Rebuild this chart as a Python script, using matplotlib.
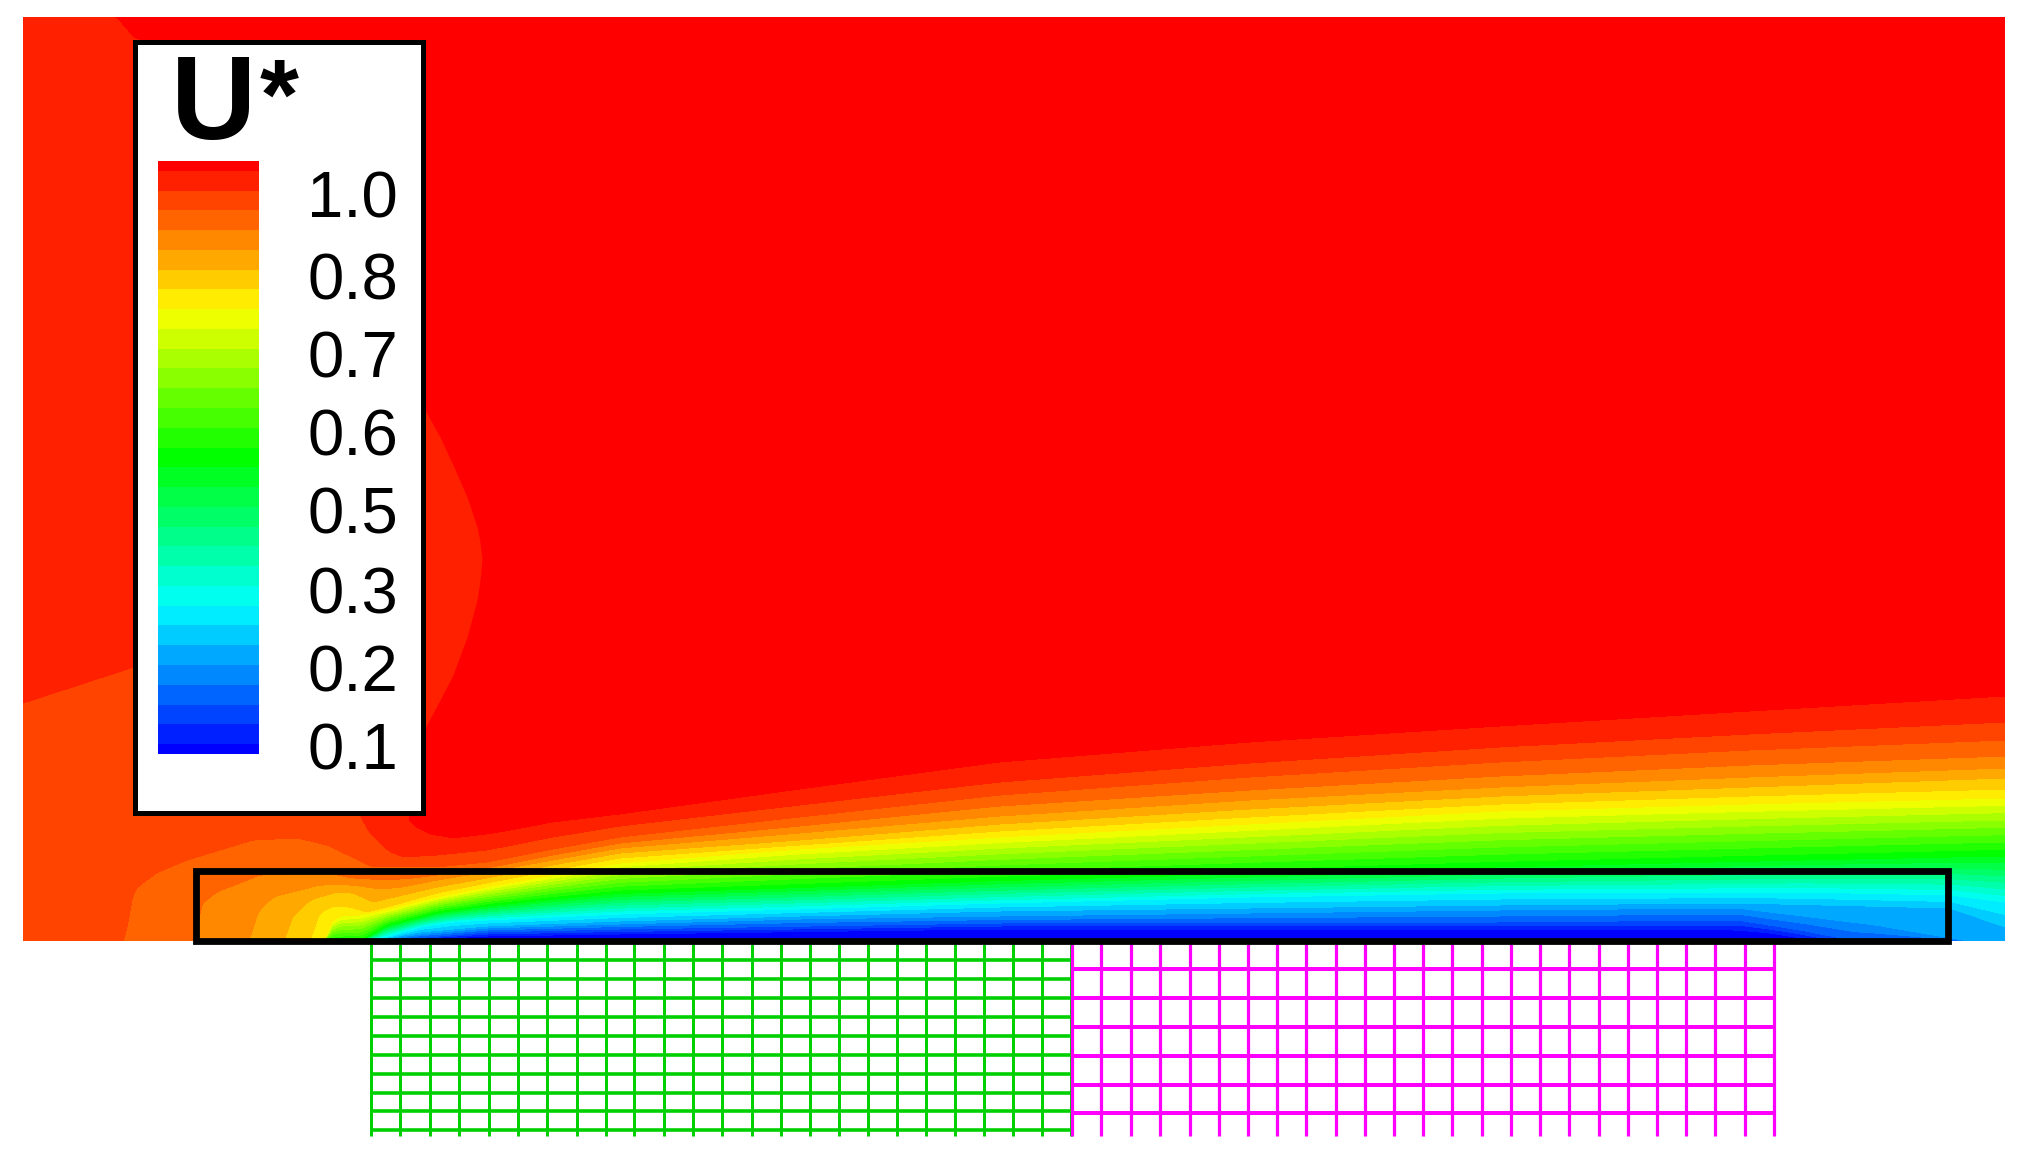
import numpy as np
import matplotlib
matplotlib.use("Agg")
import matplotlib.pyplot as plt
from matplotlib.colors import LinearSegmentedColormap
from matplotlib.patches import Rectangle

# colour bands, 0 = blue ... 30 = red
rainbow = ['#0000ff', '#00ffff', '#00ff00', '#ffff00', '#ff0000']
legend_labels = ['1.0', '0.8', '0.7', '0.6', '0.5', '0.3', '0.2', '0.1']

# contours: (x, y) in picture pixels, one list per band edge
c05 = [(385, 941), (487, 936), (620, 934), (1000, 929), (1500, 930), (1737, 930), (1770, 933), (1795, 937),
       (1815, 941)]
c25 = [(378, 941), (487, 932), (620, 929), (1000, 923), (1500, 922), (1737, 920), (1800, 930), (1836, 937),
       (1855, 941)]
c45 = [(374, 941), (420, 934), (487, 928), (620, 924), (800, 919), (1000, 916), (1250, 913), (1500, 910),
       (1737, 908), (1875, 925), (1945, 937), (1970, 941)]
c55 = [(372, 941), (420, 932), (487, 926), (620, 921), (800, 916), (1000, 911), (1250, 908), (1500, 905),
       (1737, 903), (1950, 908), (2005, 927)]
c75 = [(370, 941), (420, 927), (453, 922), (487, 920), (553, 917), (620, 914), (800, 909), (1000, 903),
       (1250, 897), (1500, 893), (1800, 892), (1950, 895), (2005, 902)]
c150 = [(360, 941), (387, 925), (437, 912), (487, 905), (553, 898), (620, 892), (800, 886), (1000, 879),
        (1250, 872), (1500, 865), (1750, 859), (2005, 853)]
c225 = [(327, 941), (328, 925), (340, 916), (360, 915), (385, 910), (437, 897), (487, 887), (553, 875),
        (620, 863), (800, 849), (1000, 837), (1250, 824), (1500, 811), (1750, 804), (2005, 798)]
c235 = [(313, 941), (314, 925), (320, 913), (333, 906), (350, 907), (367, 912), (387, 907), (437, 893),
        (487, 883), (553, 870), (620, 858), (800, 845), (1000, 831), (1250, 817), (1500, 804), (1750, 796),
        (2005, 789)]
c245 = [(287, 941), (288, 925), (292, 917), (310, 900), (337, 892), (353, 893), (373, 902), (403, 895),
        (437, 887), (487, 878), (553, 865), (620, 853), (800, 840), (1000, 824), (1250, 809), (1500, 796),
        (1750, 787), (2005, 778)]
c255 = [(252, 941), (253, 925), (257, 913), (273, 897), (320, 885), (353, 885), (380, 889), (403, 887),
        (437, 880), (487, 872), (553, 860), (620, 848), (800, 833), (1000, 816), (1250, 800), (1500, 787),
        (1750, 777), (2005, 768)]
c265 = [(196, 941), (197, 930), (200, 905), (217, 892), (260, 875), (327, 873), (353, 878), (387, 880),
        (413, 878), (437, 875), (487, 868), (553, 855), (620, 843), (800, 826), (1000, 806), (1250, 790),
        (1500, 776), (1750, 765), (2005, 756)]
c275 = [(127, 941), (128, 915), (134, 890), (156, 873), (187, 860), (253, 840), (297, 838), (327, 845),
        (373, 867), (437, 867), (487, 862), (553, 849), (620, 837), (800, 817), (1000, 795), (1250, 777),
        (1500, 762), (1750, 750), (2005, 740)]
c285 = [(23, 703), (134, 667), (250, 690), (340, 770), (360, 815), (370, 833), (387, 850), (403, 857),
        (437, 855), (487, 850), (553, 837), (620, 826), (800, 805), (1000, 782), (1250, 763), (1500, 747),
        (1750, 734), (2005, 722)]
c295 = [(23, 17), (115, 17), (135, 40), (403, 40), (405, 815), (413, 827), (430, 835), (453, 839), (487, 835),
        (500, 833), (553, 823), (620, 815), (800, 790), (1000, 763), (1250, 743), (1500, 727), (1750, 712),
        (2005, 697)]

contours = [c05, c25, c45, c55, c75, c150, c225, c235, c245, c255, c265, c275, c285, c295]
contour_bands = [0.5, 2.5, 4.5, 5.5, 7.5, 15, 22.5, 23.5, 24.5, 25.5, 26.5, 27.5, 28.5, 29.5]

# the bulge of the second band, upstream of the red pocket
bulge_x = [403, 425, 440, 453, 467, 477, 480, 482]
bulge_top = [385, 410, 437, 465, 497, 527, 542, 559]
bulge_bottom = [728, 728, 700, 675, 637, 600, 580, 559]

# meshes under the plate
green_x = [371, 400, 429.5, 459, 488.5, 517.5, 547, 576.5, 605.5, 634, 664, 693, 722, 751.5, 780.5, 809.5,
           838.5, 867.5, 896.5, 925.5, 954.5, 983.5, 1013, 1042, 1071]
green_y = [960, 979, 998, 1017, 1036, 1054.7, 1073.7, 1092.7, 1111.3, 1130.3]
magenta_x = [1072, 1101.4, 1130.9, 1159.7, 1189.8, 1219.2, 1248, 1276.8, 1306.3, 1335.7, 1364.5, 1394, 1423.4,
             1452.2, 1481.7, 1510.5, 1539.9, 1569.4, 1598.8, 1627.6, 1657, 1685.9, 1715.3, 1744.8, 1774.2]
magenta_y = [969, 998, 1026.7, 1055.7, 1084.7, 1112.7]

cmap = LinearSegmentedColormap.from_list('rainbow5', rainbow)
band_colors = [cmap(i / 30) for i in range(31)]
px = 0.72  # one picture pixel in points at dpi 100

fig = plt.figure(figsize=(20.26, 11.59), dpi=100)
ax = fig.add_axes([0, 0, 1, 1])
ax.set_xlim(0, 2026)
ax.set_ylim(1159, 0)
ax.axis('off')

# far field
ax.fill_between([23, 2005], 17, 941, color=band_colors[30], lw=0, zorder=1)
ax.fill_between(bulge_x, bulge_top, bulge_bottom, color=band_colors[29], lw=0, zorder=1.5)

# wall field on a grid that follows the contours
stations = np.arange(23, 2006)
rows = [np.full(stations.shape, 941.0)]
kernel = np.ones(9) / 9
for c in contours:
    xs, ys = zip(*c)
    y = np.interp(stations, xs, ys)
    # round off the corners of the read polylines
    y = np.convolve(np.pad(y, 4, mode='edge'), kernel, mode='valid')
    rows.append(y)
Y = np.minimum.accumulate(np.array(rows), axis=0)
X = np.tile(stations, (len(rows), 1))
Z = np.tile(np.array([-0.5] + contour_bands)[:, None], (1, len(stations)))
ax.contourf(X, Y, Z, levels=np.arange(-0.5, 30, 1), colors=band_colors[:30], zorder=2)

# meshes
ax.vlines(green_x, 944, 1136, color='#00d000', lw=3 * px, zorder=3)
ax.hlines(green_y, 371, 1071, color='#00d000', lw=3.6 * px, zorder=3)
ax.vlines(magenta_x, 944, 1136, color='#ff00ff', lw=3.2 * px, zorder=3.1)
ax.hlines(magenta_y, 1072, 1774, color='#ff00ff', lw=4 * px, zorder=3.1)

# plate outline
ax.add_patch(Rectangle((196, 871), 1752, 69.5, fill=False, ec='black', lw=6.8 * px, zorder=4))

# legend
ax.add_patch(Rectangle((135, 42), 288, 771, fc='white', ec='black', lw=5 * px, zorder=5))
edges = np.array([754.0] + [744.1 - 19.77 * i for i in range(30)] + [161.0])
ax.pcolormesh([158, 259], edges, np.arange(31)[:, None], cmap=cmap, vmin=0, vmax=30, zorder=6)
label_y = [200, 282, 360, 439, 517, 596, 674, 753]
for lab, y in zip(legend_labels, label_y):
    ax.text(398, y, lab, ha='right', va='center', fontsize=47, family='Liberation Sans', zorder=7)
ax.text(214, 108, 'U', ha='center', va='center', fontsize=85, fontweight='bold',
        family='Liberation Sans', zorder=7)
ax.text(279, 103, '*', ha='center', va='center', fontsize=72, fontweight='bold',
        family='Liberation Sans', zorder=7)

fig.savefig('out.png', dpi=100)
